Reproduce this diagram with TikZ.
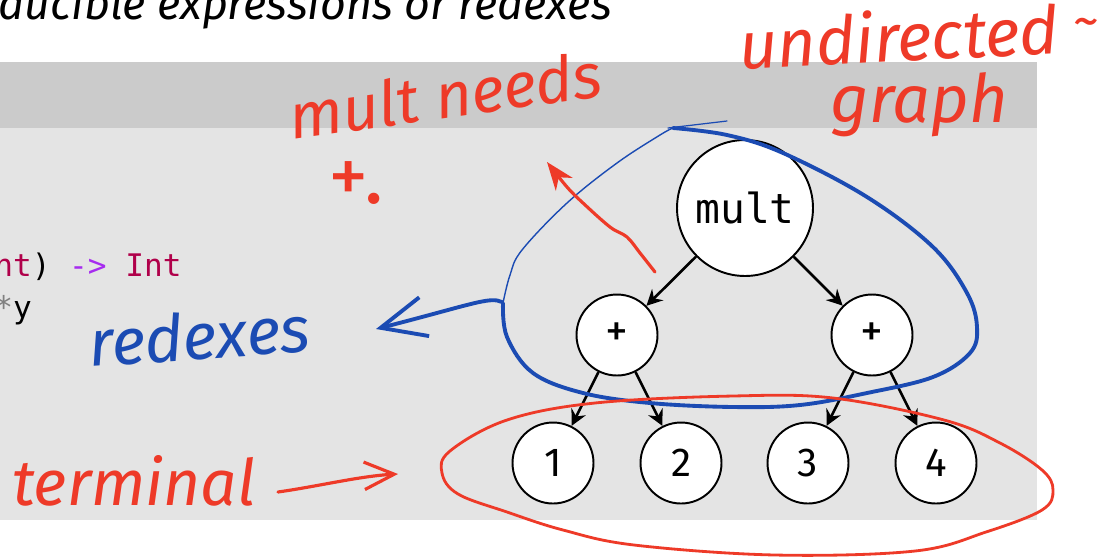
\documentclass[tikz,border=0pt]{standalone}
\usepackage{fontspec}
\setmainfont{Fira Sans}
\newfontfamily\codefont{DejaVu Sans Mono}
\newfontfamily\handfont{Fira Sans}
\usetikzlibrary{arrows.meta}
\definecolor{hdr}{HTML}{CBCBCB}
\definecolor{bodybg}{HTML}{E4E4E4}
\definecolor{kw}{HTML}{B0004A}
\definecolor{op}{HTML}{A62BEF}
\definecolor{stargray}{HTML}{808080}
\definecolor{penred}{HTML}{EE3A28}
\definecolor{penblue}{HTML}{1B4BB3}
\begin{document}
\begin{tikzpicture}[x=0.02cm,y=-0.02cm,
  tnode/.style={circle, draw=black, fill=white, line width=1.1pt, inner sep=0pt},
  bignode/.style={tnode, minimum size=2.72cm, font=\codefont\fontsize{23.5}{28}\selectfont},
  opnode/.style={tnode, minimum size=1.62cm, font=\fontsize{26}{30}\selectfont},
  leafnode/.style={tnode, minimum size=1.62cm, font=\fontsize{23}{28}\selectfont},
  edgearrow/.style={line width=1.5pt, -{Stealth[length=9pt,width=9pt,inset=3pt]}},
  hand/.style={font=\handfont\itshape\fontsize{38}{44}\selectfont, inner sep=0pt, anchor=base west},
  redpen/.style={draw=penred, line width=1.8pt, line cap=round, line join=round},
  bluepen/.style={draw=penblue, line width=2.2pt, line cap=round, line join=round},
  txt/.style={inner sep=0pt, anchor=base west},
  codetxt/.style={txt, font=\codefont\fontsize{17.7}{21}\selectfont}
]
\clip (0,0) rectangle (1099,556);
\useasboundingbox (0,0) rectangle (1099,556);
\fill[white] (0,0) rectangle (1099,556);
% slide panel
\fill[hdr] (0,62) rectangle (1037,128);
\fill[bodybg] (0,128) rectangle (1037,520);
% title
\node[txt, font=\itshape\fontsize{25.5}{30}\selectfont] (title) at (-2,19) {ducible expressions or redexes};
% code
\node[codetxt] (code1) at (-6,276)
  {\textcolor{kw}{nt})\textcolor{op}{\ -{}>\ }\textcolor{kw}{Int}};
\node[codetxt] (code2) at (-6,318) {\textcolor{stargray}{*}y};
% tree
\node[bignode] (mult) at (745,208) {mult};
\node[opnode] (pl) at (617,335) {+};
\node[opnode] (pr) at (872,335) {+};
\node[leafnode] (n1) at (553,463) {1};
\node[leafnode] (n2) at (681,463) {2};
\node[leafnode] (n3) at (808,463) {3};
\node[leafnode] (n4) at (936,463) {4};
\draw[edgearrow] (mult) -- (pl);
\draw[edgearrow] (mult) -- (pr);
\draw[edgearrow] (pl) -- (n1);
\draw[edgearrow] (pl) -- (n2);
\draw[edgearrow] (pr) -- (n3);
\draw[edgearrow] (pr) -- (n4);
% handwritten notes
\node[hand, text=penred, rotate=8, font=\handfont\itshape\fontsize{36}{42}\selectfont] (needs) at (292,140) {mult needs};
\node[hand, text=penred, font=\handfont\fontsize{46}{50}\selectfont] (plusnote) at (328,203) {+.};
\node[hand, text=penred, rotate=3] (undirected) at (740,70) {undirected};
\node[hand, text=penred, font=\handfont\fontsize{30}{34}\selectfont] (tilde) at (1073,38) {\~{}};
\node[hand, text=penred] (graph) at (830,122) {graph};
\node[hand, text=penblue, rotate=4, font=\handfont\itshape\fontsize{37}{42}\selectfont] (redexes) at (90,367) {redexes};
\node[hand, text=penred, font=\handfont\itshape\fontsize{36.5}{42}\selectfont] (terminal) at (12,505) {terminal};
% blue loop round the redexes
\draw[bluepen] plot[smooth, tension=0.6] coordinates {
  (673,128) (727,135) (783,153) (867,197) (933,247) (967,293) (977,327)
  (970,353) (933,377) (867,393) (800,405) (733,407) (650,403) (583,393)
  (533,373) (507,337) (503,303)};
\draw[bluepen, line width=0.8pt] plot[smooth, tension=0.6] coordinates {
  (503,303) (510,275) (522,250) (567,203) (617,163) (660,135) (673,128)};
\draw[bluepen, line width=0.7pt] (668,128) -- (727,121);
% blue arrow to "redexes"
\coordinate (bstart) at (502,302);
\coordinate (btip) at (376,329);
\draw[bluepen, -{Straight Barb[length=0.9cm,width=0.8cm,line width=2.2pt]}]
  (bstart) .. controls (490,296) and (470,305) .. (btip);
% red loop round the leaves
\draw[redpen, line width=1.6pt] plot[smooth cycle, tension=0.6] coordinates {
  (507,420) (595,403) (733,396) (833,398) (944,420) (1000,443) (1042,470)
  (1053,490) (1042,510) (986,532) (915,551) (775,555) (634,545)
  (563,530) (507,512) (458,494) (442,473) (450,451)};
% red arrow from + up to the note
\coordinate (rstart) at (655,272);
\coordinate (rtip) at (547,162);
\draw[redpen, -{Stealth[length=16pt,width=12pt,inset=5pt]}] plot[smooth, tension=0.6] coordinates {
  (rstart) (640,253) (627,237) (610,227) (583,203) (567,187) (rtip)};
% red arrow from "terminal"
\coordinate (tstart) at (278,492);
\coordinate (tend) at (398,474);
\draw[redpen, -{Straight Barb[length=0.6cm,width=0.55cm,line width=1.8pt]}]
  (tstart) .. controls (320,486) and (360,476) .. (tend);
\end{tikzpicture}
\end{document}
